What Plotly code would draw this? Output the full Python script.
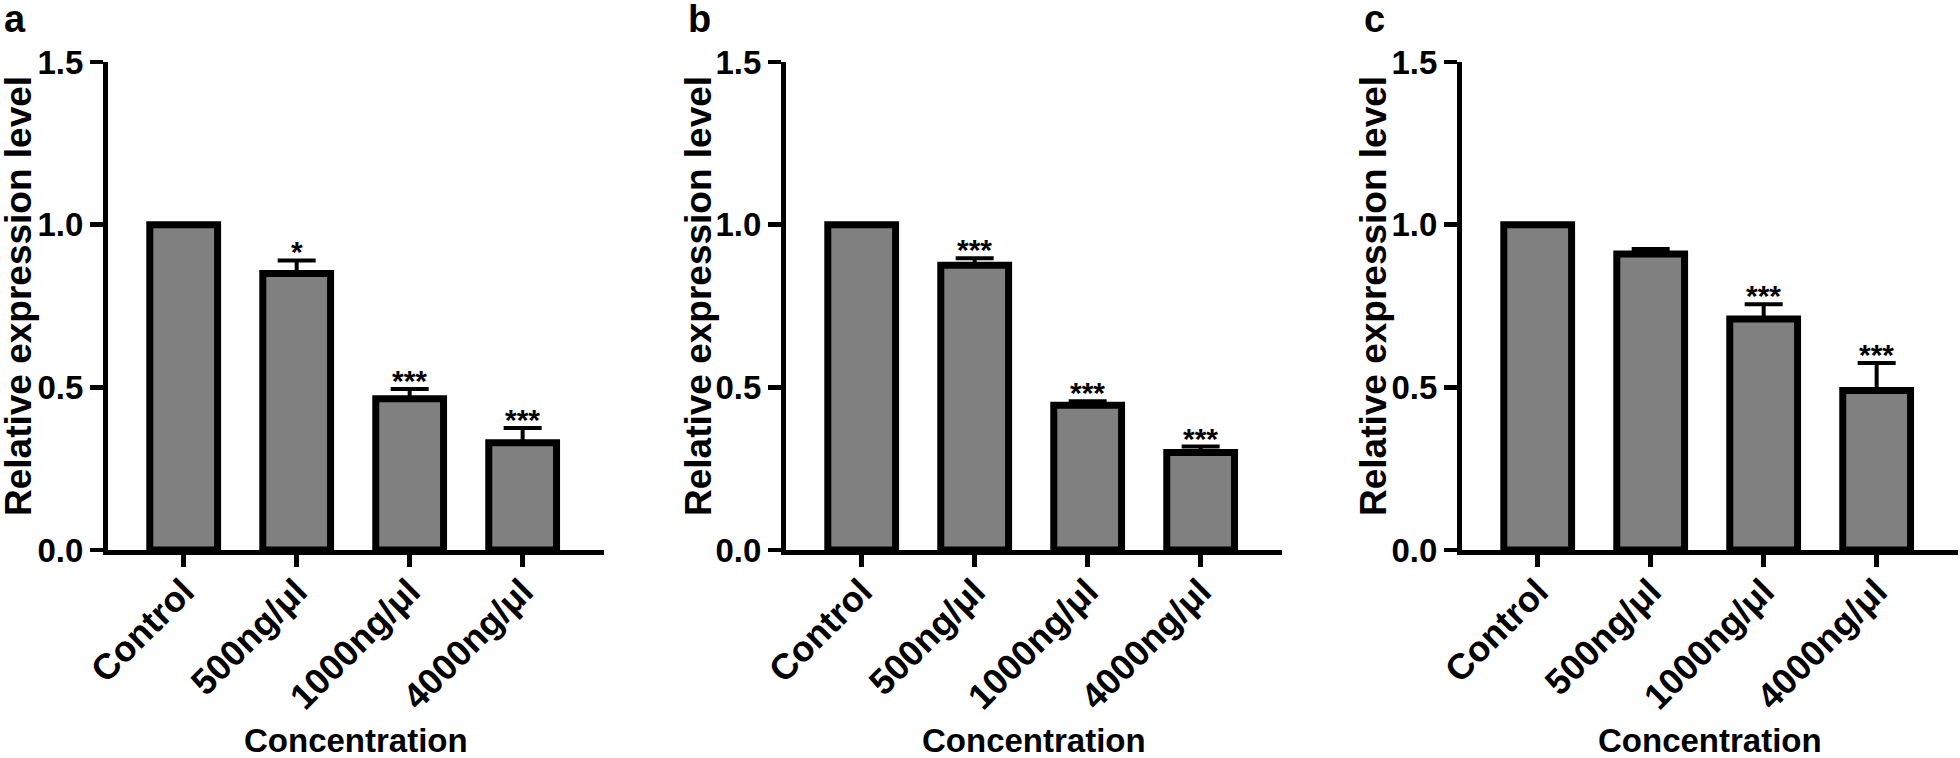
import plotly.graph_objects as go

# ---------------- data ----------------
categories = ["Control", "500ng/μl", "1000ng/μl", "4000ng/μl"]
panel_labels = ["a", "b", "c"]

values_a = [1.0, 0.85, 0.465, 0.33]
errors_a = [None, 0.04, 0.03, 0.045]
stars_a = ["", "*", "***", "***"]

values_b = [1.0, 0.875, 0.445, 0.30]
errors_b = [None, 0.022, 0.012, 0.018]
stars_b = ["", "***", "***", "***"]

values_c = [1.0, 0.91, 0.71, 0.49]
errors_c = [None, 0.015, 0.045, 0.085]
stars_c = ["", "", "***", "***"]

y_ticks = [0.0, 0.5, 1.0, 1.5]
y_title = "Relative expression level"
x_title = "Concentration"

# ---------------- layout geometry (page pixels) ----------------
W, H = 1960, 758
FONT = "Liberation Sans, Arial, sans-serif"
panels_px = [(108, 604), (786, 1282), (1462, 1958)]
x_range = [-0.67, 3.72]
y_top_px, y_bot_px = 62, 550
label_x_px = [15, 699, 1374]
ytitle_x_px = [19, 699, 1374]


def px(xp):
    return xp / W


def py(yp):
    return (H - yp) / H


fig = go.Figure()
series = [(values_a, errors_a, stars_a), (values_b, errors_b, stars_b), (values_c, errors_c, stars_c)]

annotations = []
for i, (vals, errs, stars) in enumerate(series):
    sfx = "" if i == 0 else str(i + 1)
    fig.add_trace(go.Bar(
        x=categories, y=vals,
        xaxis="x" + sfx, yaxis="y" + sfx,
        width=0.6,
        marker=dict(color="#808080", line=dict(color="black", width=7)),
        error_y=dict(type="data", symmetric=False, array=errs,
                     arrayminus=[0] * len(errs),
                     color="black", thickness=4, width=19),
        hoverinfo="skip", showlegend=False,
    ))
    x0, x1 = panels_px[i]
    common_x = dict(
        domain=[px(x0), px(x1)], range=x_range, type="category",
        showline=True, linecolor="black", linewidth=5,
        ticks="outside", ticklen=12, tickwidth=4.5, tickcolor="black",
        tickangle=-45, ticklabelstandoff=-11,
        showgrid=False, zeroline=False, automargin=False,
        tickfont=dict(family=FONT, size=36, color="black", weight="bold"),
        anchor="y" + sfx, fixedrange=True,
    )
    common_y = dict(
        domain=[py(y_bot_px), py(y_top_px)], range=[0, 1.5],
        tickvals=y_ticks, tickformat=".1f",
        showline=True, linecolor="black", linewidth=5,
        ticks="outside", ticklen=13, tickwidth=4.5, tickcolor="black",
        showgrid=False, zeroline=False, automargin=False,
        tickfont=dict(family=FONT, size=33, color="black", weight="bold"),
        anchor="x" + sfx, fixedrange=True,
    )
    fig.update_layout(**{"xaxis" + sfx: common_x, "yaxis" + sfx: common_y})

    # significance stars
    for c, v, e, s in zip(categories, vals, errs, stars):
        if s:
            annotations.append(dict(
                x=c, y=v + (e or 0), xref="x" + sfx, yref="y" + sfx,
                text=s, showarrow=False, yanchor="bottom", yshift=-10,
                font=dict(family=FONT, size=30, color="black", weight="bold"),
            ))
    # panel letter
    annotations.append(dict(
        x=px(label_x_px[i]), y=1, xref="paper", yref="paper",
        text=panel_labels[i], showarrow=False, xanchor="center", yanchor="top",
        yshift=3, borderpad=0,
        font=dict(family=FONT, size=38, color="black", weight="bold"),
    ))
    # y title
    annotations.append(dict(
        x=px(ytitle_x_px[i]), y=py(296), xref="paper", yref="paper",
        text=y_title, textangle=-90, showarrow=False,
        xanchor="center", yanchor="middle", borderpad=0,
        font=dict(family=FONT, size=37, color="black", weight="bold"),
    ))
    # x title
    annotations.append(dict(
        x=px((x0 + x1) / 2), y=py(740), xref="paper", yref="paper",
        text=x_title, showarrow=False, xanchor="center", yanchor="middle",
        font=dict(family=FONT, size=33, color="black", weight="bold"),
    ))

fig.update_layout(
    width=W, height=H,
    margin=dict(l=0, r=0, t=0, b=0, autoexpand=False),
    paper_bgcolor="white", plot_bgcolor="white",
    annotations=annotations, showlegend=False,
)

# remove the default page margin so the figure fills the window exactly
fig.write_html("out.html",
               config={"displayModeBar": False, "staticPlot": True},
               post_script="document.body.style.margin='0';document.body.style.overflow='hidden';")
